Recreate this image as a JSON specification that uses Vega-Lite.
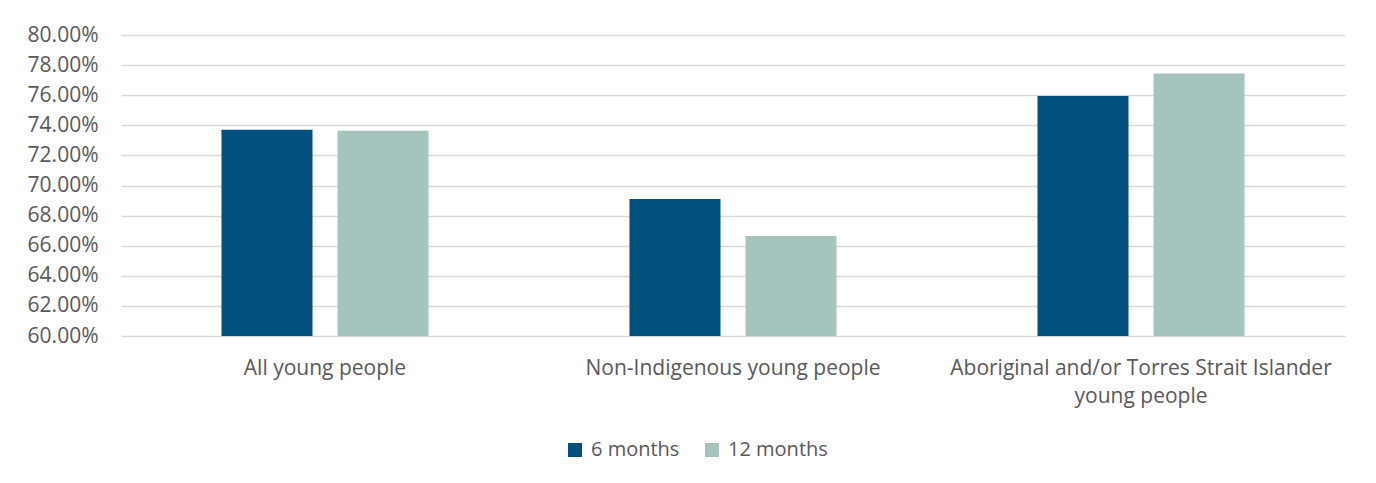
{
  "$schema": "https://vega.github.io/schema/vega-lite/v6.json",
  "width": 1224,
  "height": 301,
  "autosize": {"type": "none"},
  "padding": {"left": 121, "top": 35, "right": 31, "bottom": 147},
  "background": "white",
  "config": {
    "font": "Open Sans",
    "view": {"stroke": null},
    "axis": {"labelColor": "#595959", "labelFont": "Open Sans", "gridColor": "#d9d9d9", "gridWidth": 1.5},
    "legend": {"labelColor": "#595959", "labelFont": "Open Sans"}
  },
  "data": {
    "values": [
      {"group": "All young people", "period": "6 months", "value": 0.7371},
      {"group": "All young people", "period": "12 months", "value": 0.7364},
      {"group": "Non-Indigenous young people", "period": "6 months", "value": 0.6910},
      {"group": "Non-Indigenous young people", "period": "12 months", "value": 0.6664},
      {"group": "Aboriginal and/or Torres Strait Islander young people", "period": "6 months", "value": 0.7595},
      {"group": "Aboriginal and/or Torres Strait Islander young people", "period": "12 months", "value": 0.7745}
    ]
  },
  "mark": {"type": "bar"},
  "encoding": {
    "x": {
      "field": "group",
      "type": "nominal",
      "sort": null,
      "scale": {"paddingInner": 0, "paddingOuter": 0},
      "axis": {
        "title": null,
        "labelAngle": 0,
        "domain": false,
        "ticks": false,
        "labelFontSize": 21,
        "labelPadding": 21,
        "labelLimit": 0,
        "labelLineHeight": 28,
        "labelExpr": "datum.value == 'Aboriginal and/or Torres Strait Islander young people' ? ['Aboriginal and/or Torres Strait Islander', 'young people'] : datum.value"
      }
    },
    "xOffset": {
      "field": "period",
      "type": "nominal",
      "sort": ["6 months", "12 months"],
      "scale": {"paddingInner": 0.2155, "paddingOuter": 0.866}
    },
    "y": {
      "field": "value",
      "type": "quantitative",
      "scale": {"domain": [0.6, 0.8], "zero": false},
      "axis": {
        "title": null,
        "format": ".2%",
        "values": [0.6, 0.62, 0.64, 0.66, 0.68, 0.7, 0.72, 0.74, 0.76, 0.78, 0.8],
        "domain": false,
        "ticks": false,
        "labelFontSize": 21,
        "labelPadding": 23
      }
    },
    "y2": {"datum": 0.6},
    "color": {
      "field": "period",
      "type": "nominal",
      "sort": ["6 months", "12 months"],
      "scale": {"domain": ["6 months", "12 months"], "range": ["#02507E", "#A5C4BD"]},
      "legend": {
        "title": null,
        "orient": "none",
        "direction": "horizontal",
        "legendX": 444,
        "legendY": 405,
        "padding": 0,
        "symbolType": "square",
        "symbolSize": 196,
        "symbolStrokeWidth": 0,
        "symbolOpacity": 1,
        "labelFontSize": 20,
        "labelOffset": 6,
        "columnPadding": 22
      }
    }
  }
}
